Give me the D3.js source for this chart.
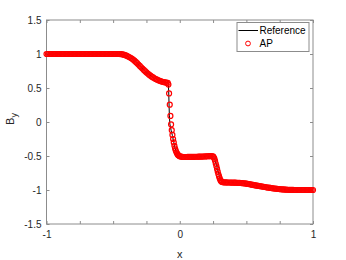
<!DOCTYPE html>
<html>
<head>
<meta charset="utf-8">
<script src="https://cdn.jsdelivr.net/npm/d3@7"></script>
<style>
  body { margin: 0; background: #fff; }
  svg { display: block; font-family: "Liberation Sans", Arial, sans-serif; }
</style>
</head>
<body>
<div id="chart"></div>
<script>
// Reference solution (polyline)
const refX = [-1, -0.45, -0.42, -0.4, -0.35, -0.3, -0.25, -0.2, -0.15, -0.1, -0.086, -0.083, -0.078, -0.074,
  -0.065, -0.055, -0.045, -0.035, -0.025, -0.015, 0, 0.05, 0.15, 0.252, 0.258, 0.265, 0.305, 0.315, 0.33,
  0.45, 0.5, 0.6, 0.7, 0.8, 0.86, 1];
const refY = [1, 1, 0.99, 0.976, 0.918, 0.825, 0.729, 0.655, 0.605, 0.579, 0.572, 0.45, 0.1, -0.03,
  -0.12, -0.2, -0.3, -0.39, -0.445, -0.48, -0.504, -0.515, -0.51, -0.502, -0.52, -0.56, -0.855, -0.88, -0.887,
  -0.896, -0.907, -0.943, -0.975, -0.995, -1, -1];

// AP samples
const apX = [
  -1, -0.99, -0.98, -0.97, -0.96, -0.95, -0.94, -0.93, -0.92, -0.91,
  -0.9, -0.89, -0.88, -0.87, -0.86, -0.85, -0.84, -0.83, -0.82, -0.81,
  -0.8, -0.79, -0.78, -0.77, -0.76, -0.75, -0.74, -0.73, -0.72, -0.71,
  -0.7, -0.69, -0.68, -0.67, -0.66, -0.65, -0.64, -0.63, -0.62, -0.61,
  -0.6, -0.59, -0.58, -0.57, -0.56, -0.55, -0.54, -0.53, -0.52, -0.51,
  -0.5, -0.49, -0.48, -0.47, -0.46,
  -0.45, -0.44, -0.43, -0.42, -0.41, -0.4, -0.39, -0.38, -0.37, -0.36,
  -0.35, -0.34, -0.33, -0.32, -0.31, -0.3, -0.29, -0.28, -0.27, -0.26,
  -0.25, -0.24, -0.23, -0.22, -0.21, -0.2, -0.19, -0.18, -0.17, -0.16,
  -0.15, -0.14, -0.13, -0.12, -0.11, -0.1, -0.09,
  -0.085, -0.08, -0.075, -0.07, -0.065, -0.06, -0.055, -0.05, -0.045, -0.04,
  -0.035, -0.03, -0.025, -0.02, -0.015, -0.01, -0.005,
  0, 0.01, 0.02, 0.03, 0.04, 0.05, 0.06, 0.07, 0.08, 0.09,
  0.1, 0.11, 0.12, 0.13, 0.14, 0.15, 0.16, 0.17, 0.18, 0.19,
  0.2, 0.21, 0.22, 0.23, 0.24, 0.25,
  0.255, 0.26, 0.265, 0.27, 0.275, 0.28, 0.285, 0.29, 0.295, 0.3, 0.305, 0.31, 0.315,
  0.32, 0.33, 0.34, 0.35, 0.36, 0.37, 0.38, 0.39,
  0.4, 0.41, 0.42, 0.43, 0.44, 0.45, 0.46, 0.47, 0.48, 0.49,
  0.5, 0.51, 0.52, 0.53, 0.54, 0.55, 0.56, 0.57, 0.58, 0.59,
  0.6, 0.61, 0.62, 0.63, 0.64, 0.65, 0.66, 0.67, 0.68, 0.69,
  0.7, 0.71, 0.72, 0.73, 0.74, 0.75, 0.76, 0.77, 0.78, 0.79,
  0.8, 0.81, 0.82, 0.83, 0.84, 0.85, 0.86, 0.87, 0.88, 0.89,
  0.9, 0.91, 0.92, 0.93, 0.94, 0.95, 0.96, 0.97, 0.98, 0.99, 1
];
const apY = [
  1, 1, 1, 1, 1, 1, 1, 1, 1, 1,
  1, 1, 1, 1, 1, 1, 1, 1, 1, 1,
  1, 1, 1, 1, 1, 1, 1, 1, 1, 1,
  1, 1, 1, 1, 1, 1, 1, 1, 1, 1,
  1, 1, 1, 1, 1, 1, 1, 1, 1, 1,
  1, 1, 1, 1, 1,
  1, 0.998, 0.995, 0.99, 0.984, 0.976, 0.967, 0.956, 0.944, 0.932,
  0.918, 0.902, 0.884, 0.865, 0.845, 0.825, 0.805, 0.785, 0.766, 0.747,
  0.729, 0.712, 0.696, 0.681, 0.667, 0.655, 0.643, 0.632, 0.622, 0.613,
  0.605, 0.598, 0.592, 0.587, 0.583, 0.579, 0.575,
  0.55, 0.42, 0.255, 0.09, -0.035, -0.12, -0.19, -0.25, -0.3, -0.35,
  -0.39, -0.42, -0.445, -0.465, -0.48, -0.49, -0.498,
  -0.504, -0.51, -0.513, -0.515, -0.515, -0.515, -0.514, -0.514, -0.513, -0.513,
  -0.512, -0.512, -0.511, -0.511, -0.51, -0.51, -0.509, -0.508, -0.507, -0.506,
  -0.505, -0.504, -0.503, -0.502, -0.501, -0.506,
  -0.52, -0.54, -0.57, -0.61, -0.65, -0.69, -0.73, -0.77, -0.8, -0.83, -0.855, -0.87, -0.879,
  -0.884, -0.887, -0.888, -0.889, -0.89, -0.89, -0.891, -0.891,
  -0.892, -0.892, -0.893, -0.894, -0.895, -0.896, -0.897, -0.899, -0.901, -0.904,
  -0.907, -0.91, -0.913, -0.917, -0.921, -0.925, -0.929, -0.933, -0.937, -0.94,
  -0.943, -0.946, -0.949, -0.952, -0.956, -0.96, -0.963, -0.966, -0.969, -0.972,
  -0.975, -0.978, -0.98, -0.982, -0.985, -0.987, -0.989, -0.991, -0.992, -0.994,
  -0.995, -0.996, -0.997, -0.998, -0.998, -0.999, -1, -1, -1, -1,
  -1, -1, -1, -1, -1, -1, -1, -1, -1, -1, -1
];

const xTicks = [-1, -0.75, -0.5, -0.25, 0, 0.25, 0.5, 0.75, 1];
const xTickLabels = [-1, 0, 1];
const yTicks = [-1.5, -1, -0.5, 0, 0.5, 1, 1.5];
const seriesNames = ["Reference", "AP"];

const W = 346, H = 260;
const margin = { top: 20, right: 33, bottom: 36, left: 46.5 };
const width = W - margin.left - margin.right;
const height = H - margin.top - margin.bottom;

const svg = d3.select("#chart").append("svg")
    .attr("width", W)
    .attr("height", H);

const g = svg.append("g")
    .attr("transform", `translate(${margin.left}, ${margin.top})`);

const x = d3.scaleLinear().domain([-1, 1]).range([0, width]);
const y = d3.scaleLinear().domain([-1.5, 1.5]).range([height, 0]);

const axisColor = "#8c8c8c";
const textColor = "#262626";

function styleAxis(sel) {
    sel.select(".domain").remove();
    sel.selectAll(".tick line").attr("stroke", axisColor);
    sel.selectAll(".tick text")
        .attr("fill", textColor)
        .style("font-size", "10px")
        .style("font-family", "'Liberation Sans', Arial, sans-serif");
}

g.append("g")
    .attr("transform", `translate(0, ${height})`)
    .call(d3.axisBottom(x).tickValues(xTicks).tickSize(-3).tickPadding(7)
        .tickFormat(d => xTickLabels.includes(d) ? String(d) : ""))
    .call(styleAxis);

g.append("g")
    .call(d3.axisTop(x).tickValues(xTicks).tickSize(-3).tickFormat(""))
    .call(styleAxis);

g.append("g")
    .call(d3.axisLeft(y).tickValues(yTicks).tickSize(-3).tickPadding(5)
        .tickFormat(d => String(d)))
    .call(styleAxis);

g.append("g")
    .attr("transform", `translate(${width}, 0)`)
    .call(d3.axisRight(y).tickValues(yTicks).tickSize(-3).tickFormat(""))
    .call(styleAxis);

// box
g.append("rect")
    .attr("x", 0).attr("y", 0)
    .attr("width", width).attr("height", height)
    .attr("fill", "none")
    .attr("stroke", axisColor)
    .attr("stroke-width", 1);

// reference line (underneath the markers)
const ref = refX.map((d, i) => ({ x: d, y: refY[i] }));
g.append("path")
    .datum(ref)
    .attr("fill", "none")
    .attr("stroke", "#000")
    .attr("stroke-width", 1)
    .attr("d", d3.line().x(d => x(d.x)).y(d => y(d.y)));

// AP circles
const ap = apX.map((d, i) => ({ x: d, y: apY[i] }));
g.append("g")
    .selectAll("circle")
    .data(ap)
    .join("circle")
    .attr("cx", d => x(d.x))
    .attr("cy", d => y(d.y))
    .attr("r", 2.5)
    .attr("fill", "none")
    .attr("stroke", "#ff0000")
    .attr("stroke-width", 1.2);

// axis labels
svg.append("text")
    .attr("x", margin.left + x(0))
    .attr("y", 258)
    .attr("text-anchor", "middle")
    .attr("fill", textColor)
    .style("font-size", "11px")
    .text("x");

const yl = svg.append("text")
    .attr("transform", "translate(14, 119) rotate(-90)")
    .attr("text-anchor", "middle")
    .attr("fill", textColor)
    .style("font-size", "11px");
yl.append("tspan").text("B");
yl.append("tspan").attr("dy", 3).style("font-size", "9px").text("y");

// legend
const lg = svg.append("g").attr("transform", "translate(237, 22.5)");
lg.append("rect")
    .attr("width", 72).attr("height", 29)
    .attr("fill", "#fff")
    .attr("stroke", axisColor)
    .attr("stroke-width", 1);
lg.append("line")
    .attr("x1", 1.5).attr("x2", 21)
    .attr("y1", 8).attr("y2", 8)
    .attr("stroke", "#000").attr("stroke-width", 1);
lg.append("circle")
    .attr("cx", 11).attr("cy", 21)
    .attr("r", 2.4)
    .attr("fill", "none")
    .attr("stroke", "#ff0000");
lg.selectAll("text.lt")
    .data(seriesNames)
    .join("text")
    .attr("class", "lt")
    .attr("x", 22.5)
    .attr("y", (d, i) => 11.5 + i * 13)
    .attr("fill", "#000")
    .style("font-size", "10px")
    .text(d => d);
</script>
</body>
</html>
